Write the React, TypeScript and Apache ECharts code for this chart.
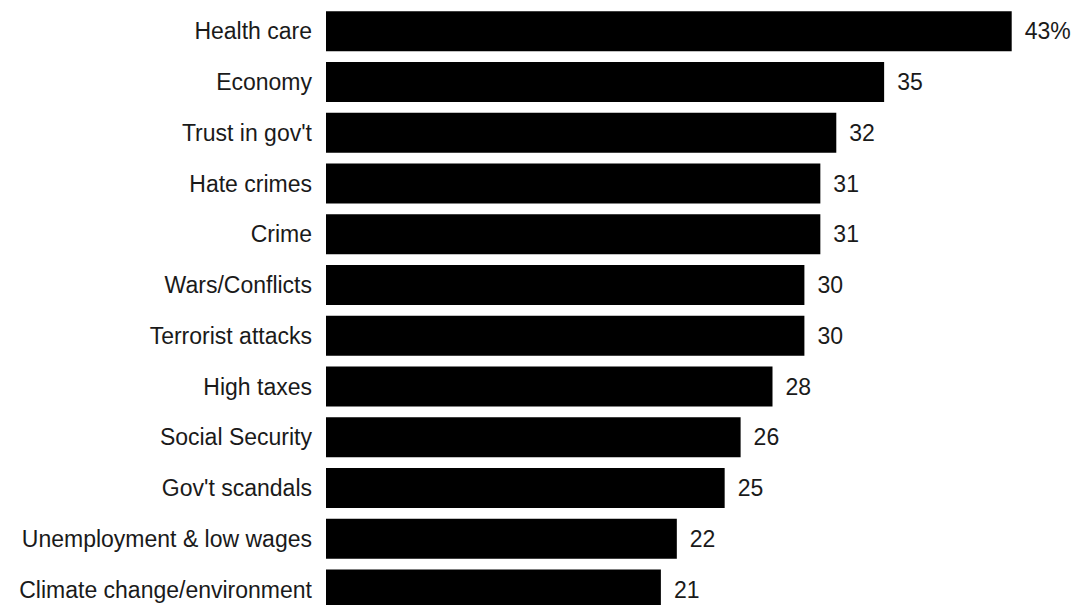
import React, { useEffect, useRef } from "react";
import * as echarts from "echarts";

const categories = [
  "Health care",
  "Economy",
  "Trust in gov't",
  "Hate crimes",
  "Crime",
  "Wars/Conflicts",
  "Terrorist attacks",
  "High taxes",
  "Social Security",
  "Gov't scandals",
  "Unemployment & low wages",
  "Climate change/environment",
];
const values = [43, 35, 32, 31, 31, 30, 30, 28, 26, 25, 22, 21];

export default function App() {
  const ref = useRef<HTMLDivElement>(null);
  useEffect(() => {
    if (!ref.current) return;
    const chart = echarts.init(ref.current, undefined, { renderer: "svg" });
    const font = "Liberation Sans, Arial, Helvetica, sans-serif";
    chart.setOption({
      animation: false,
      backgroundColor: "#ffffff",
      grid: { left: 326, right: 31.4, top: 5.9, bottom: 5, containLabel: false },
      xAxis: {
        type: "value",
        min: 0,
        max: 45,
        show: false,
      },
      yAxis: {
        type: "category",
        data: categories,
        inverse: true,
        axisLine: { show: false },
        axisTick: { show: false },
        splitLine: { show: false },
        axisLabel: {
          color: "#1a1a1a",
          fontSize: 23,
          fontFamily: font,
          margin: 14,
        },
      },
      series: [
        {
          type: "bar",
          data: values,
          barWidth: 40,
          itemStyle: { color: "#000000" },
          label: {
            show: true,
            position: "right",
            distance: 13,
            color: "#1a1a1a",
            fontSize: 23,
            fontFamily: font,
            formatter: (p: any) => (p.dataIndex === 0 ? p.value + "%" : String(p.value)),
          },
        },
      ],
    });
    return () => chart.dispose();
  }, []);
  return (
    <div
      style={{
        position: "fixed",
        left: 0,
        top: 0,
        width: 1075,
        height: 605,
        overflow: "hidden",
        background: "#fff",
      }}
    >
      <div ref={ref} style={{ width: 1075, height: 620 }} />
    </div>
  );
}
